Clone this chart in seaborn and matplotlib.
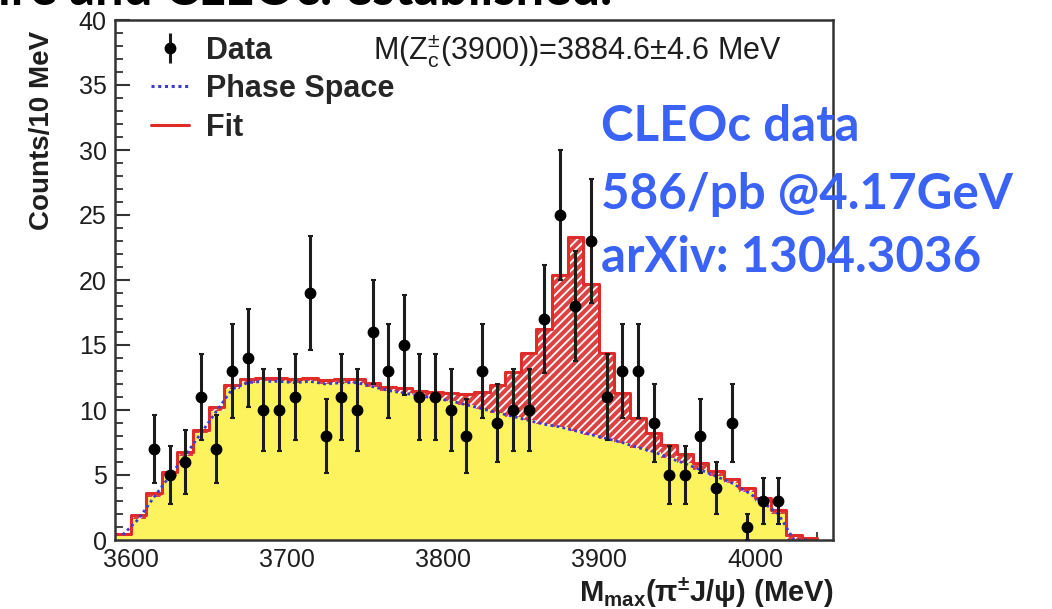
import numpy as np
import pandas as pd
import matplotlib
matplotlib.use("Agg")
import matplotlib.pyplot as plt
from matplotlib.lines import Line2D
from matplotlib.ticker import MultipleLocator
import seaborn as sns

# 10 MeV bins from 3590 to 4040 MeV
bin_edges = list(range(3590, 4041, 10))
bin_centers = [e + 5 for e in bin_edges[:-1]]

# Phase-space expectation per bin (yellow)
phase_space = [0.4, 1.6, 3.3, 4.9, 6.5, 8.2, 9.9, 11.6, 12.1, 12.2,
               12.2, 12.1, 12.2, 12.0, 12.1, 12.1, 11.8, 11.5, 11.3, 11.1,
               10.9, 10.7, 10.4, 10.1, 9.8, 9.5, 9.2, 8.9, 8.7, 8.4,
               8.1, 7.8, 7.5, 7.1, 6.8, 6.3, 5.9, 5.4, 4.9, 4.4,
               3.7, 2.9, 2.0, 0.0, 0.0]

# Total fit (phase space + Zc(3900) signal) per bin
fit_total = [0.5, 1.9, 3.6, 5.2, 6.8, 8.5, 10.2, 11.9, 12.4, 12.5,
             12.5, 12.4, 12.5, 12.3, 12.4, 12.4, 12.1, 11.8, 11.7, 11.5,
             11.4, 11.3, 11.2, 11.4, 11.9, 12.9, 14.4, 16.2, 20.4, 23.3,
             19.7, 14.4, 11.3, 9.4, 8.2, 7.3, 6.6, 5.9, 5.3, 4.7,
             4.0, 3.2, 2.3, 0.4, 0.15]

# Observed events
data_mass = [3615, 3625, 3635, 3645, 3655, 3665, 3675, 3685, 3695, 3705,
             3715, 3725, 3735, 3745, 3755, 3765, 3775, 3785, 3795, 3805,
             3815, 3825, 3835, 3845, 3855, 3865, 3875, 3885, 3895, 3905,
             3915, 3925, 3935, 3945, 3955, 3965, 3975, 3985, 3995, 4005,
             4015]
data_counts = [7, 5, 6, 11, 7, 13, 14, 10, 10, 11,
               19, 8, 11, 10, 16, 13, 15, 11, 11, 10,
               8, 13, 9, 10, 10, 17, 25, 18, 23, 11,
               13, 13, 9, 5, 5, 8, 4, 9, 1, 3,
               3]
data_err = np.sqrt(data_counts)

hist = pd.DataFrame({"mass": bin_centers, "phase_space": phase_space,
                     "fit": fit_total})

YELLOW = "#fcf35f"
RED = "#e02b2b"
HATCH_RED = "#dc4242"
BLUE = "#3a3ad6"
FRAME = "#333333"
TEXT = "#1e1e1e"

sns.set_style("ticks")
plt.rcParams["font.family"] = ["Liberation Sans", "DejaVu Sans"]
plt.rcParams["mathtext.fontset"] = "custom"
plt.rcParams["mathtext.rm"] = "Liberation Sans"
plt.rcParams["mathtext.it"] = "Liberation Sans"
plt.rcParams["mathtext.bf"] = "Liberation Sans:bold"
plt.rcParams["mathtext.default"] = "regular"
plt.rcParams["hatch.color"] = "white"
plt.rcParams["hatch.linewidth"] = 1.3

fig = plt.figure(figsize=(10.52, 6.09), dpi=100)
ax = fig.add_axes([115 / 1052, 1 - 540 / 609, 718 / 1052, 520 / 609])

# Fit histogram, hatched; the phase-space fill then covers its lower part
sns.histplot(data=hist, x="mass", weights="fit", bins=bin_edges, element="step",
             fill=True, color=HATCH_RED, alpha=1, linewidth=0, ax=ax)
sig = ax.collections[-1]
sig.set_facecolor(HATCH_RED)
sig.set_edgecolor("white")
sig.set_hatch("////")
sig.set_linewidth(0)

sns.histplot(data=hist, x="mass", weights="phase_space", bins=bin_edges,
             element="step", fill=True, color=YELLOW, alpha=1, linewidth=0, ax=ax)
ax.collections[-1].set_facecolor(YELLOW)

# Fit outline
sns.histplot(data=hist, x="mass", weights="fit", bins=bin_edges, element="step",
             fill=False, color=RED, linewidth=2.2, ax=ax)

# Phase-space curve
sns.lineplot(data=hist, x="mass", y="phase_space", color=BLUE, linewidth=2,
             linestyle=(0, (1, 1.2)), ax=ax)

# Data with Poisson errors
ax.errorbar(data_mass, data_counts, yerr=data_err, fmt="o", color="black",
            ecolor="#1c1c1c", elinewidth=2.2, markersize=7.5, capsize=1.8,
            capthick=1.5, zorder=6)

ax.set_xlim(3590, 4050)
ax.set_ylim(0, 40)

ax.xaxis.set_major_locator(MultipleLocator(100))
ax.xaxis.set_minor_locator(MultipleLocator(20))
ax.yaxis.set_major_locator(MultipleLocator(5))
ax.yaxis.set_minor_locator(MultipleLocator(1))
ax.tick_params(axis="both", which="both", direction="in", colors=FRAME,
               labelcolor=TEXT, top=False, right=False)
ax.tick_params(axis="both", which="major", length=11, width=1.5, labelsize=18)
ax.tick_params(axis="both", which="minor", length=6, width=1.3)
ax.tick_params(axis="x", which="major", pad=6)
ax.tick_params(axis="y", which="major", pad=6)
for side in ax.spines.values():
    side.set_color(FRAME)
    side.set_linewidth(1.8)

ax.set_ylabel("Counts/10 MeV", fontsize=20, fontweight="bold", loc="top",
              color=TEXT)
ax.yaxis.set_label_coords(-0.083, 0.98)
ax.set_xlabel("M$_{\\mathbf{max}}$(π$^{\\mathbf{±}}$J/ψ) (MeV)", fontsize=21,
              fontweight="bold", loc="right", color=TEXT)
ax.xaxis.set_label_coords(1.0, -0.068)

# Legend
data_handle = ax.errorbar([], [], yerr=[], fmt="o", color="black",
                          ecolor="#1c1c1c", elinewidth=2.2, markersize=7.5)
ps_handle = Line2D([], [], color=BLUE, linewidth=2.2, linestyle=(0, (1, 1.2)))
fit_handle = Line2D([], [], color=RED, linewidth=2.2)
ax.legend([data_handle, ps_handle, fit_handle], ["Data", "Phase Space", "Fit"],
          loc="upper left", bbox_to_anchor=(0.05, 0.97), frameon=False,
          prop={"size": 22, "weight": "bold"}, handlelength=1.25,
          handletextpad=0.55, labelspacing=0.28, borderaxespad=0, borderpad=0)

ax.text(0.359, 0.925, "M(Z$_{c}^{±}$(3900))=3884.6±4.6 MeV", transform=ax.transAxes,
        fontsize=22, color=TEXT, ha="left", va="baseline")

# Annotation on the slide
note_kw = dict(fontsize=35.5, fontweight="bold", color="#3a62f5",
               family=["Lato", "DejaVu Sans"], ha="left", va="baseline")
fig.text(601 / 1052, 1 - 141 / 609, "CLEOc data", **note_kw)
fig.text(601 / 1052, 1 - 209 / 609, "586/pb @4.17GeV", **note_kw)
fig.text(601 / 1052, 1 - 272 / 609, "arXiv: 1304.3036", **note_kw)

# Slide heading running off the top edge
fig.text(-2 / 1052, 1 - 5 / 609, "ire and CLEOc: established.", fontsize=36.5,
         fontweight="bold", color="black", family=["Lato", "DejaVu Sans"],
         ha="left", va="baseline")

fig.savefig("out.png", dpi=100)
